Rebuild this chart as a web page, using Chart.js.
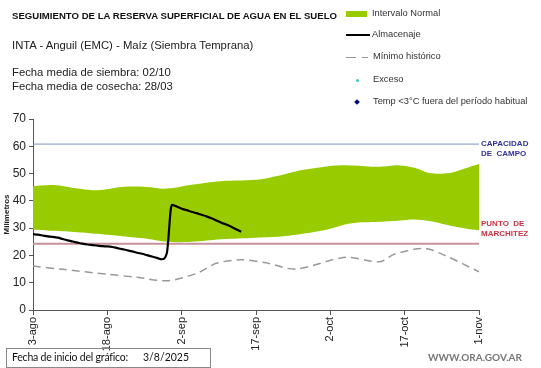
<!DOCTYPE html>
<html>
<head>
<meta charset="utf-8">
<script src="https://cdn.jsdelivr.net/npm/chart.js@4.4.1/dist/chart.umd.min.js"></script>
<style>
  body { margin: 0; background: #fff; }
  #wrap { position: relative; width: 541px; height: 368px; overflow: hidden; font-family: "Liberation Sans", Arial, sans-serif; }
  #wrap canvas { position: absolute; left: 0; top: 0; }
  .t { position: absolute; white-space: nowrap; color: #222; }
  .lg { position: absolute; white-space: nowrap; color: #333; font-size: 9.3px; }
</style>
</head>
<body>
<div id="wrap">
  <canvas id="grafico" width="541" height="368"></canvas>

  <div class="t" style="left:12px; top:10px; font-size:9.6px; font-weight:bold; color:#111;">SEGUIMIENTO DE LA RESERVA SUPERFICIAL DE AGUA EN EL SUELO</div>
  <div class="t" style="left:12px; top:39px; font-size:11.3px;">INTA - Anguil (EMC) - Maíz (Siembra Temprana)</div>
  <div class="t" style="left:12px; top:66px; font-size:11.3px;">Fecha media de siembra: 02/10</div>
  <div class="t" style="left:12px; top:80px; font-size:11.3px;">Fecha media de cosecha: 28/03</div>

  <!-- leyenda -->
  <div style="position:absolute; left:346px; top:11px; width:21px; height:6px; background:#99CC00;"></div>
  <div class="lg" style="left:372px; top:8px;">Intervalo Normal</div>
  <div style="position:absolute; left:346px; top:34px; width:24px; height:2px; background:#000;"></div>
  <div class="lg" style="left:372px; top:29px;">Almacenaje</div>
  <div style="position:absolute; left:346px; top:57px; width:10px; height:1px; background:#999;"></div>
  <div style="position:absolute; left:362px; top:57px; width:6px; height:1px; background:#999;"></div>
  <div class="lg" style="left:373px; top:51px;">Mínimo histórico</div>
  <div style="position:absolute; left:356px; top:79px; width:3px; height:3px; border-radius:2px; background:#33CCCC;"></div>
  <div class="lg" style="left:373px; top:74px;">Exceso</div>
  <div style="position:absolute; left:355px; top:100px; width:4px; height:4px; transform:rotate(45deg); background:#000080;"></div>
  <div class="lg" style="left:373px; top:96px;">Temp &lt;3°C fuera del período habitual</div>

  <!-- rótulos de líneas de referencia -->
  <div class="t" style="left:481px; top:139px; font-size:8px; font-weight:bold; color:#333399; line-height:10px;">CAPACIDAD<br>DE&nbsp; CAMPO</div>
  <div class="t" style="left:481px; top:219px; font-size:8px; font-weight:bold; color:#CC3344; line-height:10px;">PUNTO&nbsp; DE<br>MARCHITEZ</div>

  <!-- pie -->
  <div style="position:absolute; left:6px; top:348px; width:205px; height:20px; border:1px solid #888; box-sizing:border-box;"></div>
  <div class="t" style="left:12px; top:351px; font-size:10.5px; letter-spacing:-0.2px; font-family:Lato, sans-serif; color:#111;">Fecha de inicio del gráfico:</div>
  <div class="t" style="left:143px; top:351px; font-size:10.5px; font-family:Lato, sans-serif; color:#111;">3/8/2025</div>
  <div class="t" style="left:428px; top:351px; font-size:10px; font-weight:bold; font-family:Lato, sans-serif; color:#777;">WWW.ORA.GOV.AR</div>
</div>

<script>
// Eje X: días desde el 3 de agosto
const etiquetasX = ['3-ago', '18-ago', '2-sep', '17-sep', '2-oct', '17-oct', '1-nov'];

// Intervalo normal (banda verde)
const diasBanda = [0, 4, 9, 13, 18, 23, 27, 32, 38, 45, 49, 53, 57, 60, 64, 70, 74, 77, 80, 84, 87, 90];
const bandaSuperior = [45.4, 45.8, 44.5, 43.9, 45.1, 45.1, 44.5, 45.9, 47.2, 47.7, 49.0, 50.8, 52.0, 52.8, 53.0, 52.5, 53.0, 52.1, 50.2, 50.2, 51.8, 53.5];
const bandaInferior = [29.5, 29.0, 28.5, 27.9, 27.0, 26.1, 25.0, 25.0, 25.9, 26.5, 26.8, 27.6, 28.7, 29.8, 31.7, 32.3, 32.8, 33.2, 32.6, 31.0, 30.0, 29.2];

// Almacenaje diario
const diasAlm = [0, 1, 2, 3, 4, 5, 6, 7, 8, 9, 10, 11, 12, 13, 14, 15, 16, 17, 18, 19, 20, 21, 22, 23, 24, 25, 26, 27, 28, 29, 30, 31, 32, 33, 34, 35, 36, 37, 38, 39, 40, 41, 42];
const almacenaje = [27.8, 27.6, 27.3, 27.0, 26.8, 26.5, 26.0, 25.5, 25.1, 24.7, 24.3, 24.0, 23.8, 23.6, 23.4, 23.3, 23.1, 22.7, 22.3, 21.9, 21.5, 21.0, 20.6, 20.1, 19.6, 19.1, 18.6, 20.8, 38.5, 37.9, 37.1, 36.6, 36.0, 35.5, 34.9, 34.3, 33.6, 32.8, 32.0, 31.3, 30.5, 29.6, 28.7];

// Mínimo histórico
const diasMin = [0, 6, 15, 21, 27, 33, 37, 42, 47, 53, 63, 70, 73, 79, 83, 90];
const minimoHistorico = [16.1, 14.9, 13.1, 12.0, 10.7, 13.4, 17.1, 18.4, 17.3, 15.0, 19.3, 17.7, 20.5, 22.6, 20.1, 14.0];

// Líneas de referencia
const capacidadCampo = 60.8;
const puntoMarchitez = 24.3;

function pares(xs, ys) {
    return xs.map((x, i) => ({ x: x, y: ys[i] }));
}

const ctx = document.getElementById('grafico').getContext('2d');
new Chart(ctx, {
    type: 'line',
    data: {
        datasets: [
            {
                label: 'Intervalo Normal',
                data: pares(diasBanda, bandaSuperior),
                borderWidth: 0,
                pointRadius: 0,
                backgroundColor: '#99CC00',
                fill: 1,
                tension: 0.4,
                order: 6
            },
            {
                label: 'inferior',
                data: pares(diasBanda, bandaInferior),
                borderWidth: 0,
                pointRadius: 0,
                fill: false,
                tension: 0.4,
                order: 5
            },
            {
                label: 'Capacidad de campo',
                data: [{ x: 0, y: capacidadCampo }, { x: 90, y: capacidadCampo }],
                borderColor: '#8090C0',
                borderWidth: 1,
                pointRadius: 0,
                order: 4
            },
            {
                label: 'Punto de marchitez',
                data: [{ x: 0, y: puntoMarchitez }, { x: 90, y: puntoMarchitez }],
                borderColor: '#C8929C',
                borderWidth: 2,
                pointRadius: 0,
                order: 3
            },
            {
                label: 'Mínimo histórico',
                data: pares(diasMin, minimoHistorico),
                borderColor: '#999999',
                borderWidth: 1.5,
                borderDash: [8, 5],
                pointRadius: 0,
                tension: 0.3,
                order: 2
            },
            {
                label: 'Almacenaje',
                data: pares(diasAlm, almacenaje),
                borderColor: '#000000',
                borderWidth: 2.2,
                pointRadius: 0,
                cubicInterpolationMode: 'monotone',
                order: 1
            }
        ]
    },
    options: {
        responsive: false,
        animation: false,
        layout: { padding: { top: 119, right: 62, bottom: 0, left: 0 } },
        plugins: {
            legend: { display: false },
            tooltip: { enabled: false }
        },
        scales: {
            x: {
                type: 'linear',
                min: 0,
                max: 90,
                afterFit: function(scale) { scale.height = 58; },
                grid: { drawOnChartArea: false, color: '#555', tickLength: 5 },
                border: { color: '#555', width: 1 },
                ticks: {
                    stepSize: 15,
                    autoSkip: false,
                    maxRotation: 90,
                    minRotation: 90,
                    padding: 2,
                    color: '#222',
                    font: { family: 'Liberation Sans', size: 11 },
                    callback: function(v) { return etiquetasX[v / 15]; }
                }
            },
            y: {
                min: 0,
                max: 70,
                afterFit: function(scale) { scale.width = 33; },
                grid: { drawOnChartArea: false, color: '#555', tickLength: 4 },
                border: { color: '#555', width: 1 },
                ticks: {
                    stepSize: 10,
                    padding: 3,
                    color: '#222',
                    font: { family: 'Liberation Sans', size: 12 }
                },
                title: {
                    display: true,
                    text: 'Milímetros',
                    color: '#222',
                    padding: { top: 2, bottom: 0 },
                    font: { family: 'Liberation Sans', size: 8, weight: 'bold' }
                }
            }
        }
    }
});
</script>
</body>
</html>
